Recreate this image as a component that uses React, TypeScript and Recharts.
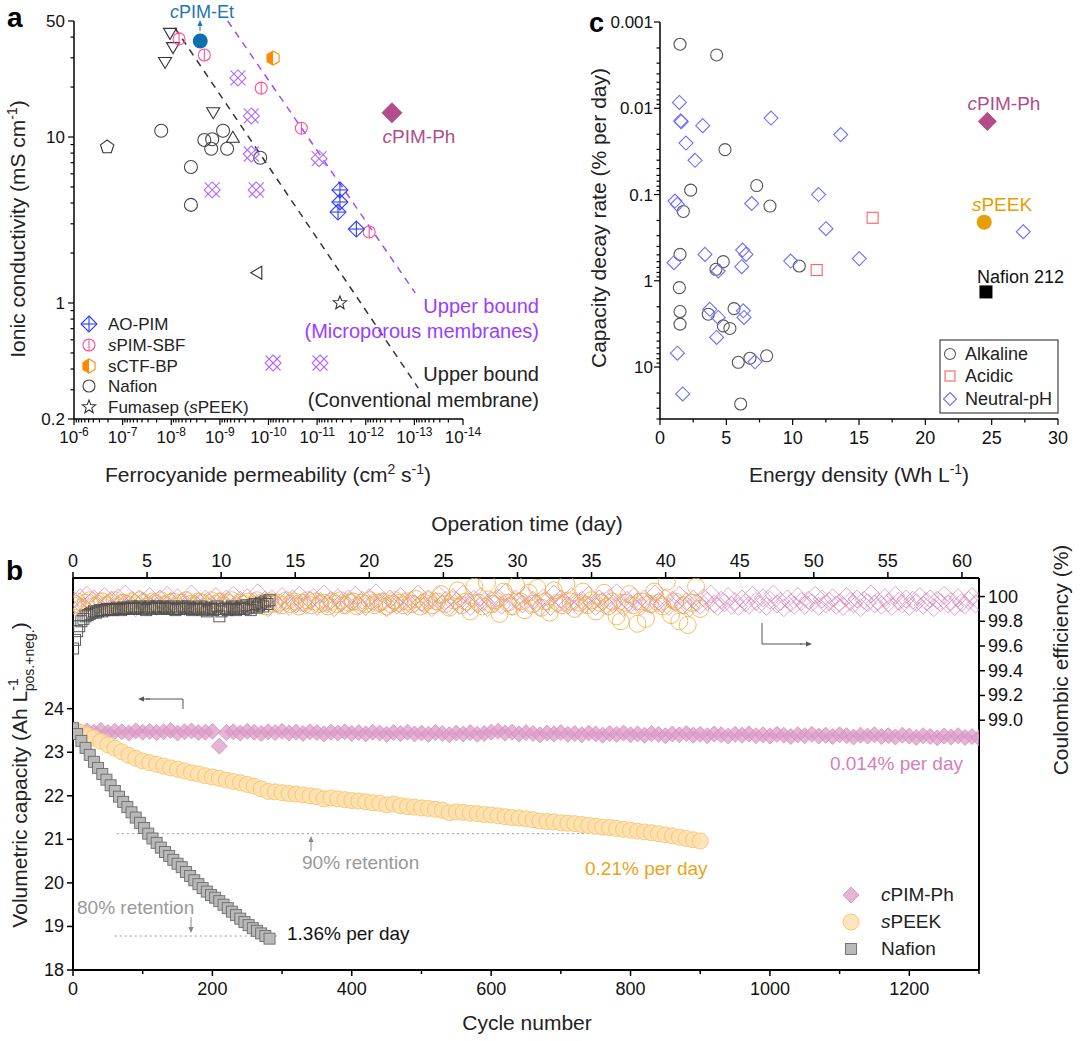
import React from 'react';
import { ScatterChart, Scatter, XAxis, YAxis, ReferenceLine } from 'recharts';

const FONT = 'Arial, "Liberation Sans", Helvetica, sans-serif';

// ---------------- Panel a data (permeability cm2/s, conductivity mS/cm) ----------------
const aoPimPerm = [3.4e-12, 3.4e-12, 3.72e-12, 1.56e-12];
const aoPimCond = [4.8, 4.06, 3.53, 2.79];
const sPimPerm = [6.9e-9, 2.09e-9, 1.41e-10, 2.11e-11, 8.5e-13];
const sPimCond = [39, 31.2, 19.7, 11.3, 2.68];
const sCtfPerm = [8.05e-11];
const sCtfCond = [29.9];
const nafionPerm = [1.61e-8, 2.09e-9, 1.44e-9, 8.6e-10, 1.51e-9, 7.1e-10, 1.48e-10, 3.94e-9, 3.94e-9];
const nafionCond = [10.9, 9.6, 9.7, 10.9, 8.5, 8.5, 7.5, 6.6, 3.9];
const fumaPerm = [3.4e-12];
const fumaCond = [1.0];
const triDownPerm = [1.06e-8, 9.2e-9, 1.34e-8, 1.37e-9];
const triDownCond = [42.4, 34.8, 28.3, 14.1];
const triUpPerm = [5.4e-10];
const triUpCond = [9.9];
const triLeftPerm = [1.7e-10];
const triLeftCond = [1.52];
const pentPerm = [2.08e-7];
const pentCond = [8.7];
const hatchPerm = [4.26e-10, 2.26e-10, 2.26e-10, 9.1e-12, 1.44e-9, 1.79e-10, 8.05e-11, 8.7e-12];
const hatchCond = [22.7, 13.4, 7.9, 7.4, 4.8, 4.8, 0.435, 0.435];
const cPimEtPerm = [2.53e-9];
const cPimEtCond = [37.9];
const cPimPhPermA = [2.89e-13];
const cPimPhCondA = [14.0];
const microBoundPerm = [6.9e-10, 9.6e-14];
const microBoundCond = [50, 1.15];
const convBoundPerm = [8.4e-9, 8.3e-14];
const convBoundCond = [45.4, 0.307];

// ---------------- Panel c data (energy density Wh/L, decay rate %/day) ----------------
const alkEnergy = [1.51, 4.27, 4.9, 2.31, 7.29, 8.29, 1.76, 1.51, 4.77, 4.22, 10.5, 1.46, 1.51, 1.51, 5.58, 3.64, 4.77, 5.27, 5.9, 6.78, 8.04, 6.08];
const alkDecay = [0.00181, 0.00241, 0.0302, 0.089, 0.0787, 0.136, 0.157, 0.494, 0.6, 0.736, 0.674, 1.2, 2.27, 3.18, 2.1, 2.44, 3.33, 3.57, 8.8, 7.9, 7.4, 26.8];
const acidEnergy = [16.03, 11.81];
const acidDecay = [0.186, 0.75];
const neutEnergy = [1.46, 1.56, 1.6, 3.22, 8.37, 13.62, 1.96, 2.64, 1.13, 1.31, 6.91, 11.95, 12.51, 27.38, 1.05, 3.39, 6.23, 6.48, 9.85, 15.02, 4.39, 6.16, 3.75, 4.39, 6.28, 6.33, 4.27, 1.31, 7.16, 1.71];
const neutDecay = [0.00857, 0.014, 0.0143, 0.0159, 0.013, 0.0202, 0.0253, 0.0401, 0.119, 0.13, 0.127, 0.1, 0.249, 0.27, 0.617, 0.494, 0.44, 0.494, 0.59, 0.553, 0.77, 0.686, 2.14, 2.66, 2.23, 2.66, 4.54, 6.9, 8.7, 20.5];
const cPimPhEnergy = [24.67];
const cPimPhDecay = [0.0142];
const sPeekEnergy = [24.44];
const sPeekDecay = [0.209];
const naf212Energy = [24.57];
const naf212Decay = [1.346];

// ---------------- Panel b data ----------------
const pimCapStep = 10; // cycles between listed points
const pimCapacity = [
  23.50, 23.47, 23.49, 23.46, 23.50, 23.45, 23.48, 23.47, 23.44, 23.49, 23.46,
  23.48, 23.45, 23.47, 23.50, 23.44, 23.47, 23.49, 23.45, 23.46, 23.48,
  23.14, 23.45, 23.47, 23.44, 23.48, 23.46, 23.43, 23.47, 23.45, 23.48,
  23.44, 23.46, 23.43, 23.47, 23.45, 23.42, 23.46, 23.44, 23.47, 23.43,
  23.45, 23.42, 23.46, 23.44, 23.41, 23.45, 23.43, 23.46, 23.42, 23.44,
  23.41, 23.45, 23.43, 23.40, 23.44, 23.42, 23.45, 23.41, 23.43, 23.46,
  23.48, 23.44, 23.46, 23.42, 23.45, 23.43, 23.40, 23.44, 23.42, 23.45,
  23.41, 23.43, 23.40, 23.44, 23.42, 23.39, 23.43, 23.41, 23.44, 23.40,
  23.42, 23.39, 23.43, 23.41, 23.38, 23.42, 23.40, 23.43, 23.39, 23.41,
  23.38, 23.42, 23.40, 23.37, 23.41, 23.39, 23.42, 23.38, 23.40, 23.37,
  23.41, 23.39, 23.36, 23.40, 23.38, 23.41, 23.37, 23.39, 23.36, 23.40,
  23.38, 23.35, 23.39, 23.37, 23.40, 23.36, 23.38, 23.35, 23.39, 23.37,
  23.34, 23.38, 23.36, 23.33, 23.37, 23.35, 23.38, 23.34, 23.36, 23.33,
];
const pimCEStep = 5;
const pimCE = [
  99.97, 99.94, 99.99, 99.92, 100.01, 99.95, 99.98, 99.93, 99.96, 100.0,
  99.94, 99.97, 99.92, 99.99, 99.95, 100.02, 99.93, 99.97, 99.91, 99.98,
  99.96, 99.93, 100.0, 99.95, 99.92, 99.98, 99.94, 100.01, 99.96, 99.93,
  99.99, 99.95, 99.92, 99.97, 100.02, 99.94, 99.96, 99.91, 99.98, 99.95,
  99.93, 100.0, 99.96, 99.92, 99.98, 99.95, 100.01, 99.93, 99.97, 99.94,
  99.99, 99.92, 99.96, 100.03, 99.94, 99.97, 99.91, 99.98, 99.95, 99.93,
  100.0, 99.96, 99.92, 99.98, 99.94, 100.01, 99.95, 99.93, 99.97, 99.99,
  99.92, 99.96, 100.02, 99.94, 99.97, 99.91, 99.99, 99.95, 99.93, 99.98,
  99.96, 100.01, 99.93, 99.97, 99.92, 99.99, 99.95, 100.03, 99.94, 99.96,
  99.91, 99.98, 99.95, 99.93, 100.0, 99.96, 99.92, 99.97, 99.94, 100.02,
  99.95, 99.93, 99.98, 99.91, 99.96, 100.01, 99.94, 99.97, 99.92, 99.99,
  99.96, 99.93, 100.02, 99.95, 99.92, 99.98, 99.94, 100.0, 99.96, 99.91,
  99.97, 99.94, 99.99, 99.93, 100.03, 99.95, 99.92, 99.98, 99.96, 99.94,
  100.01, 99.93, 99.97, 99.95, 99.91, 99.99, 99.96, 99.92, 100.02, 99.94,
  99.98, 99.95, 99.93, 100.0, 99.96, 99.92, 99.97, 99.94, 100.01, 99.95,
  99.92, 99.98, 99.96, 99.93, 99.99, 99.94, 100.03, 99.95, 99.91, 99.97,
  99.94, 100.0, 99.96, 99.92, 99.98, 99.95, 99.93, 100.02, 99.96, 99.94,
  99.99, 99.92, 99.97, 99.95, 100.01, 99.93, 99.96, 99.91, 99.98, 99.95,
  99.93, 99.99, 99.96, 100.02, 99.94, 99.92, 99.97, 99.95, 100.0, 99.93,
  99.96, 99.92, 99.98, 99.95, 99.93, 100.01, 99.96, 99.94, 99.99, 99.92,
  99.97, 100.02, 99.94, 99.96, 99.91, 99.98, 99.95, 99.93, 100.0, 99.96,
  99.93, 99.97, 99.95, 100.01, 99.92, 99.98, 99.94, 99.96, 99.99, 99.93,
  99.95, 99.92, 100.0, 99.96, 99.94, 99.98, 99.91, 99.97, 99.95, 100.02,
  99.94, 99.96, 99.93, 99.99, 99.95, 99.92, 100.01, 99.96, 99.94, 99.98,
  99.92, 99.97, 99.95, 100.0, 99.93, 99.96, 99.98, 99.91, 99.97, 99.95,
  100.01, 99.94, 99.96, 99.92, 99.99, 99.95, 99.93, 99.97, 100.0, 99.94,
  99.96,
];
const peekCapStep = 10;
const peekCapacity = [
  23.50, 23.46, 23.40, 23.33, 23.25, 23.17, 23.09, 23.01, 22.93, 22.86,
  22.80, 22.76, 22.72, 22.68, 22.64, 22.61, 22.57, 22.53, 22.50, 22.46,
  22.43, 22.40, 22.36, 22.33, 22.30, 22.26, 22.22, 22.16, 22.10, 22.09,
  22.07, 22.05, 22.04, 22.02, 22.00, 21.98, 21.93, 21.95, 21.93, 21.91,
  21.89, 21.88, 21.86, 21.84, 21.83, 21.79, 21.81, 21.77, 21.75, 21.74,
  21.72, 21.71, 21.69, 21.67, 21.61, 21.63, 21.62, 21.60, 21.59, 21.57,
  21.56, 21.54, 21.52, 21.50, 21.49, 21.47, 21.45, 21.42, 21.41, 21.40,
  21.38, 21.37, 21.36, 21.34, 21.32, 21.30, 21.28, 21.27, 21.25, 21.23,
  21.21, 21.19, 21.17, 21.15, 21.13, 21.10, 21.08, 21.05, 21.02, 20.99,
  20.96,
];
const peekCEStep = 6;
const peekCE = [
  99.93, 99.96, 99.91, 99.95, 99.97, 99.92, 99.94, 99.96, 99.93, 99.95,
  99.97, 99.92, 99.95, 99.94, 99.96, 99.93, 99.97, 99.95, 99.92, 99.96,
  99.94, 99.97, 99.93, 99.95, 99.96, 99.92, 99.95, 99.97, 99.94, 99.93,
  99.96, 99.95, 99.92, 99.97, 99.94, 99.96, 99.93, 99.95, 99.97, 99.92,
  99.95, 99.94, 99.96, 99.93, 99.97, 99.95, 99.92, 99.96, 99.94, 99.95,
  99.93, 99.97, 99.94, 99.96, 99.92, 99.95, 99.97, 99.93, 99.96, 99.94,
  99.95, 99.92, 99.96, 99.94, 99.97, 99.93, 99.95, 99.96, 99.92, 99.95,
  99.94, 99.97, 99.93, 99.95, 99.96, 99.92, 99.94, 99.97, 99.95, 99.93,
  99.96, 99.94, 99.98, 99.92, 99.95, 99.97, 99.93, 99.96, 100.02, 99.94,
  99.91, 99.97, 100.05, 99.93, 99.96, 99.88, 100.08, 99.95, 99.92, 100.11,
  99.94, 99.97, 99.86, 100.04, 99.95, 99.92, 100.09, 99.96, 99.89, 100.03,
  99.94, 100.07, 99.91, 99.96, 99.87, 100.05, 99.95, 99.93, 100.10, 99.96,
  99.90, 99.95, 100.04, 99.93, 99.97, 99.88, 99.95, 100.03, 99.92, 99.96,
  99.84, 99.80, 99.95, 100.02, 99.93, 99.78, 99.96, 99.82, 99.94, 100.04,
  99.95, 99.92, 100.12, 99.85, 99.96, 99.80, 99.93, 99.77, 99.95, 100.08,
  99.90,
];
const nafCapStep = 6;
const nafCapacity = [
  23.55, 23.42, 23.26, 23.10, 22.94, 22.78, 22.64, 22.50, 22.37, 22.24,
  22.11, 21.98, 21.86, 21.74, 21.62, 21.50, 21.38, 21.26, 21.13, 21.02,
  20.92, 20.81, 20.71, 20.62, 20.53, 20.44, 20.36, 20.25, 20.16, 20.06,
  19.97, 19.88, 19.80, 19.72, 19.66, 19.58, 19.50, 19.42, 19.34, 19.26,
  19.18, 19.10, 19.03, 18.96, 18.90, 18.84, 18.78, 18.72,
];
const nafCEStep = 3;
const nafCE = [
  99.58, 99.65, 99.72, 99.76, 99.80, 99.82, 99.84, 99.85, 99.86, 99.87,
  99.88, 99.87, 99.88, 99.89, 99.88, 99.89, 99.90, 99.89, 99.90, 99.89,
  99.90, 99.91, 99.90, 99.89, 99.91, 99.90, 99.91, 99.90, 99.92, 99.91,
  99.90, 99.91, 99.92, 99.90, 99.91, 99.89, 99.91, 99.92, 99.90, 99.91,
  99.92, 99.91, 99.90, 99.92, 99.91, 99.90, 99.91, 99.92, 99.90, 99.89,
  99.91, 99.90, 99.92, 99.91, 99.90, 99.92, 99.91, 99.89, 99.90, 99.91,
  99.90, 99.92, 99.89, 99.91, 99.88, 99.90, 99.91, 99.89, 99.90, 99.92,
  99.84, 99.88, 99.90, 99.91, 99.89, 99.90, 99.92, 99.91, 99.89, 99.90,
  99.91, 99.92, 99.90, 99.93, 99.91, 99.89, 99.92, 99.94, 99.91, 99.93,
  99.95, 99.92, 99.96, 99.94, 99.97,
];
const retention90 = 21.13;
const retention80 = 18.78;

// ---------------- helpers ----------------
const zip = (xs: number[], ys: number[]) => xs.map((x, i) => ({ x, y: ys[i] }));
const series = (step: number, ys: number[]) => ys.map((y, i) => ({ x: i * step, y }));
const logTicks = (lo: number, hi: number, maxV: number, minV: number) => {
  const out: number[] = [];
  for (let e = lo; e <= hi; e++) {
    for (let m = 1; m <= 9; m++) {
      const v = parseFloat((m * Math.pow(10, e)).toPrecision(6));
      if (v >= minV * 0.999 && v <= maxV * 1.001) out.push(v);
    }
  }
  return out;
};
const isDecade = (v: number) => {
  const l = Math.log10(v);
  return Math.abs(l - Math.round(l)) < 1e-6;
};

// ---------------- marker shapes ----------------
const shTriDown = (cx: number, cy: number) => (
  <path d={`M${cx - 6.5},${cy - 4.5} L${cx + 6.5},${cy - 4.5} L${cx},${cy + 6.5} Z`} fill="none" stroke="#333" strokeWidth={1.1} />
);
const shTriUp = (cx: number, cy: number) => (
  <path d={`M${cx - 6.5},${cy + 4.5} L${cx + 6.5},${cy + 4.5} L${cx},${cy - 6.5} Z`} fill="none" stroke="#333" strokeWidth={1.1} />
);
const shTriLeft = (cx: number, cy: number) => (
  <path d={`M${cx + 4.5},${cy - 6.5} L${cx + 4.5},${cy + 6.5} L${cx - 6.5},${cy} Z`} fill="none" stroke="#333" strokeWidth={1.1} />
);
const shPent = (cx: number, cy: number) => {
  const pts = [0, 1, 2, 3, 4].map((k) => {
    const a = -Math.PI / 2 + (k * 2 * Math.PI) / 5;
    return `${cx + 7 * Math.cos(a)},${cy + 7 * Math.sin(a)}`;
  });
  return <polygon points={pts.join(' ')} fill="none" stroke="#333" strokeWidth={1.1} />;
};
const shStar = (cx: number, cy: number) => {
  const pts: string[] = [];
  for (let k = 0; k < 10; k++) {
    const a = -Math.PI / 2 + (k * Math.PI) / 5;
    const r = k % 2 === 0 ? 7 : 3;
    pts.push(`${cx + r * Math.cos(a)},${cy + r * Math.sin(a)}`);
  }
  return <polygon points={pts.join(' ')} fill="none" stroke="#333" strokeWidth={1.1} />;
};
const shCircle = (cx: number, cy: number, r = 6, stroke = '#444') => (
  <circle cx={cx} cy={cy} r={r} fill="none" stroke={stroke} strokeWidth={1.1} />
);
const shSpim = (cx: number, cy: number) => (
  <g>
    <circle cx={cx} cy={cy} r={6} fill="none" stroke="#ff4f9b" strokeWidth={1.1} />
    <line x1={cx} y1={cy - 6} x2={cx} y2={cy + 6} stroke="#ff4f9b" strokeWidth={1.1} />
  </g>
);
const shAoPim = (cx: number, cy: number) => (
  <g stroke="#2e3dff" strokeWidth={1.1} fill="none">
    <path d={`M${cx},${cy - 8} L${cx + 8},${cy} L${cx},${cy + 8} L${cx - 8},${cy} Z`} />
    <line x1={cx - 8} y1={cy} x2={cx + 8} y2={cy} />
    <line x1={cx} y1={cy - 8} x2={cx} y2={cy + 8} />
  </g>
);
const shHex = (cx: number, cy: number) => {
  const r = 7;
  const h = r * Math.cos(Math.PI / 6);
  const full = `${cx},${cy - r} ${cx + h},${cy - r / 2} ${cx + h},${cy + r / 2} ${cx},${cy + r} ${cx - h},${cy + r / 2} ${cx - h},${cy - r / 2}`;
  const half = `${cx},${cy - r} ${cx},${cy + r} ${cx - h},${cy + r / 2} ${cx - h},${cy - r / 2}`;
  return (
    <g>
      <polygon points={full} fill="#fff" stroke="#ff8a00" strokeWidth={1.1} />
      <polygon points={half} fill="#ff8a00" stroke="none" />
    </g>
  );
};
const shHatch = (cx: number, cy: number) => (
  <g stroke="#b06bff" strokeWidth={1.1} fill="none">
    <path d={`M${cx},${cy - 8} L${cx + 8},${cy} L${cx},${cy + 8} L${cx - 8},${cy} Z`} />
    <line x1={cx - 7.5} y1={cy - 7.5} x2={cx + 7.5} y2={cy + 7.5} />
    <line x1={cx - 7.5} y1={cy + 7.5} x2={cx + 7.5} y2={cy - 7.5} />
  </g>
);
const shDiamondFill = (cx: number, cy: number, s: number, fill: string) => (
  <path d={`M${cx},${cy - s} L${cx + s},${cy} L${cx},${cy + s} L${cx - s},${cy} Z`} fill={fill} stroke={fill} strokeWidth={1} />
);
const shDiamondOpen = (cx: number, cy: number, s: number, stroke: string, sw = 1.1) => (
  <path d={`M${cx},${cy - s} L${cx + s},${cy} L${cx},${cy + s} L${cx - s},${cy} Z`} fill="none" stroke={stroke} strokeWidth={sw} />
);
const shSquareOpen = (cx: number, cy: number, s: number, stroke: string, sw = 1.1) => (
  <rect x={cx - s} y={cy - s} width={2 * s} height={2 * s} fill="none" stroke={stroke} strokeWidth={sw} />
);

// panel b markers
const shPimCap = (cx: number, cy: number) => (
  <path d={`M${cx},${cy - 8} L${cx + 8},${cy} L${cx},${cy + 8} L${cx - 8},${cy} Z`} fill="#dc9cc8" fillOpacity={0.75} stroke="#d58abd" strokeWidth={0.8} />
);
const shPeekCap = (cx: number, cy: number) => (
  <circle cx={cx} cy={cy} r={8} fill="#fde0ae" fillOpacity={0.8} stroke="#f5c56a" strokeWidth={0.9} />
);
const shNafCap = (cx: number, cy: number) => (
  <rect x={cx - 5.5} y={cy - 5.5} width={11} height={11} fill="#b9b9b9" stroke="#6b6b6b" strokeWidth={0.9} />
);
const shPimCE = (cx: number, cy: number) => (
  <path d={`M${cx},${cy - 9} L${cx + 9},${cy} L${cx},${cy + 9} L${cx - 9},${cy} Z`} fill="none" stroke="#d47cb6" strokeWidth={0.7} />
);
const shPeekCE = (cx: number, cy: number) => (
  <circle cx={cx} cy={cy} r={8.5} fill="none" stroke="#f3ad35" strokeWidth={0.8} />
);
const shNafCE = (cx: number, cy: number) => (
  <rect x={cx - 5.5} y={cy - 5.5} width={11} height={11} fill="none" stroke="#4d4d4d" strokeWidth={0.9} />
);

// ---------------- ticks ----------------
const TickAX = (p: any) => {
  const { x, y, payload } = p;
  const v = payload.value;
  const major = isDecade(v);
  return (
    <g>
      <line x1={x} y1={y} x2={x} y2={y + (major ? 6 : 3.5)} stroke="#000" strokeWidth={1.2} />
      {major && (
        <text x={x} y={y + 24} textAnchor="middle" fontSize={17} fontFamily={FONT} fill="#111">
          10<tspan fontSize={12} dy={-7}>{String(Math.round(Math.log10(v)))}</tspan>
        </text>
      )}
    </g>
  );
};
const aYLabels: Record<string, string> = { '0.2': '0.2', '1': '1', '10': '10', '50': '50' };
const TickAY = (p: any) => {
  const { x, y, payload } = p;
  const v = payload.value;
  const major = isDecade(v);
  const lab = aYLabels[String(v)];
  return (
    <g>
      <line x1={x} y1={y} x2={x - (major || lab ? 6 : 3.5)} y2={y} stroke="#000" strokeWidth={1.2} />
      {lab && (
        <text x={x - 9} y={y + 6} textAnchor="end" fontSize={17} fontFamily={FONT} fill="#111">{lab}</text>
      )}
    </g>
  );
};
const TickCX = (p: any) => {
  const { x, y, payload } = p;
  const v = payload.value;
  const major = v % 5 === 0;
  return (
    <g>
      <line x1={x} y1={y} x2={x} y2={y + (major ? 6 : 3.5)} stroke="#000" strokeWidth={1.2} />
      {major && (
        <text x={x} y={y + 25} textAnchor="middle" fontSize={18} fontFamily={FONT} fill="#111">{v}</text>
      )}
    </g>
  );
};
const TickCY = (p: any) => {
  const { x, y, payload } = p;
  const v = payload.value;
  const major = isDecade(v);
  return (
    <g>
      <line x1={x} y1={y} x2={x - (major ? 6 : 3.5)} y2={y} stroke="#000" strokeWidth={1.2} />
      {major && (
        <text x={x - 7} y={y + 6} textAnchor="end" fontSize={17} fontFamily={FONT} fill="#111">{String(v)}</text>
      )}
    </g>
  );
};
const TickBBottom = (p: any) => {
  const { x, y, payload } = p;
  const v = payload.value;
  const major = v % 200 === 0;
  return (
    <g>
      <line x1={x} y1={y} x2={x} y2={y + (major ? 6 : 4)} stroke="#000" strokeWidth={1.5} />
      {major && (
        <text x={x} y={y + 25} textAnchor="middle" fontSize={18} fontFamily={FONT} fill="#111">{v}</text>
      )}
    </g>
  );
};
const TickBTop = (p: any) => {
  const { x, y, payload } = p;
  const v = payload.value;
  return (
    <g>
      <line x1={x} y1={y} x2={x} y2={y - 6} stroke="#000" strokeWidth={1.5} />
      <text x={x} y={y - 11} textAnchor="middle" fontSize={18} fontFamily={FONT} fill="#111">{v}</text>
    </g>
  );
};
const TickBLeft = (p: any) => {
  const { x, y, payload } = p;
  return (
    <g>
      <line x1={x} y1={y} x2={x - 6} y2={y} stroke="#000" strokeWidth={1.5} />
      <text x={x - 9} y={y + 6} textAnchor="end" fontSize={18} fontFamily={FONT} fill="#111">{payload.value}</text>
    </g>
  );
};
const TickBRight = (p: any) => {
  const { x, y, payload } = p;
  const v = payload.value;
  const lab = v >= 99.999 ? '100' : v.toFixed(1);
  return (
    <g>
      <line x1={x} y1={y} x2={x + 6} y2={y} stroke="#000" strokeWidth={1.5} />
      <text x={x + 9} y={y + 6} textAnchor="start" fontSize={18} fontFamily={FONT} fill="#111">{lab}</text>
    </g>
  );
};

const aXTicks = logTicks(-14, -6, 1e-6, 1e-14);
const aYTicks = logTicks(-1, 1, 50, 0.2);
const cYTicks = logTicks(-3, 1, 40, 0.001);
const cXTicks = [0, 2.5, 5, 7.5, 10, 12.5, 15, 17.5, 20, 22.5, 25, 27.5, 30];
const bXTicks = [0, 100, 200, 300, 400, 500, 600, 700, 800, 900, 1000, 1100, 1200, 1300];
const bTopTicks = [0, 5, 10, 15, 20, 25, 30, 35, 40, 45, 50, 55, 60];
const bLeftTicks = [18, 19, 20, 21, 22, 23, 24];
const bRightTicks = [99.0, 99.2, 99.4, 99.6, 99.8, 100.0];

const axisCommon = { tickLine: false, tickSize: 0, tickMargin: 0, interval: 0 as const, allowDataOverflow: true };

const PanelA = () => (
  <ScatterChart width={1080} height={1041} margin={{ top: 21, right: 617, bottom: 592, left: 34 }}>
    <XAxis
      {...axisCommon}
      dataKey="x"
      type="number"
      scale="log"
      domain={[1e-14, 1e-6]}
      reversed
      ticks={aXTicks}
      tick={TickAX}
      height={30}
      axisLine={{ stroke: '#000', strokeWidth: 1.5 }}
    />
    <YAxis
      {...axisCommon}
      dataKey="y"
      type="number"
      scale="log"
      domain={[0.2, 50]}
      ticks={aYTicks}
      tick={TickAY}
      width={40}
      axisLine={{ stroke: '#000', strokeWidth: 1.5 }}
    />
    <ReferenceLine
      segment={[{ x: convBoundPerm[0], y: convBoundCond[0] }, { x: convBoundPerm[1], y: convBoundCond[1] }]}
      stroke="#333"
      strokeWidth={1.5}
      strokeDasharray="7 6"
      ifOverflow="visible"
    />
    <ReferenceLine
      segment={[{ x: microBoundPerm[0], y: microBoundCond[0] }, { x: microBoundPerm[1], y: microBoundCond[1] }]}
      stroke="#9b4dff"
      strokeWidth={1.5}
      strokeDasharray="7 6"
      ifOverflow="visible"
    />
    <Scatter data={zip(pentPerm, pentCond)} isAnimationActive={false} shape={(p: any) => shPent(p.cx, p.cy)} />
    <Scatter data={zip(triDownPerm, triDownCond)} isAnimationActive={false} shape={(p: any) => shTriDown(p.cx, p.cy)} />
    <Scatter data={zip(triUpPerm, triUpCond)} isAnimationActive={false} shape={(p: any) => shTriUp(p.cx, p.cy)} />
    <Scatter data={zip(triLeftPerm, triLeftCond)} isAnimationActive={false} shape={(p: any) => shTriLeft(p.cx, p.cy)} />
    <Scatter data={zip(nafionPerm, nafionCond)} isAnimationActive={false} shape={(p: any) => shCircle(p.cx, p.cy, 6.5, '#444')} />
    <Scatter data={zip(fumaPerm, fumaCond)} isAnimationActive={false} shape={(p: any) => shStar(p.cx, p.cy)} />
    <Scatter data={zip(hatchPerm, hatchCond)} isAnimationActive={false} shape={(p: any) => shHatch(p.cx, p.cy)} />
    <Scatter data={zip(sPimPerm, sPimCond)} isAnimationActive={false} shape={(p: any) => shSpim(p.cx, p.cy)} />
    <Scatter data={zip(aoPimPerm, aoPimCond)} isAnimationActive={false} shape={(p: any) => shAoPim(p.cx, p.cy)} />
    <Scatter data={zip(sCtfPerm, sCtfCond)} isAnimationActive={false} shape={(p: any) => shHex(p.cx, p.cy)} />
    <Scatter data={zip(cPimEtPerm, cPimEtCond)} isAnimationActive={false} shape={(p: any) => <circle cx={p.cx} cy={p.cy} r={7.5} fill="#0f6fae" />} />
    <Scatter data={zip(cPimPhPermA, cPimPhCondA)} isAnimationActive={false} shape={(p: any) => shDiamondFill(p.cx, p.cy, 10, '#b24c8b')} />
  </ScatterChart>
);

const PanelC = () => (
  <ScatterChart width={1080} height={1041} margin={{ top: 22, right: 22, bottom: 592, left: 610 }}>
    <XAxis
      {...axisCommon}
      dataKey="x"
      type="number"
      domain={[0, 30]}
      ticks={cXTicks}
      tick={TickCX}
      height={30}
      axisLine={{ stroke: '#000', strokeWidth: 1.5 }}
    />
    <YAxis
      {...axisCommon}
      dataKey="y"
      type="number"
      scale="log"
      domain={[0.001, 40]}
      reversed
      ticks={cYTicks}
      tick={TickCY}
      width={50}
      axisLine={{ stroke: '#000', strokeWidth: 1.5 }}
    />
    <Scatter data={zip(alkEnergy, alkDecay)} isAnimationActive={false} shape={(p: any) => shCircle(p.cx, p.cy, 6, '#555')} />
    <Scatter data={zip(acidEnergy, acidDecay)} isAnimationActive={false} shape={(p: any) => shSquareOpen(p.cx, p.cy, 5.5, '#ff6262')} />
    <Scatter data={zip(neutEnergy, neutDecay)} isAnimationActive={false} shape={(p: any) => shDiamondOpen(p.cx, p.cy, 7, '#6f6fff')} />
    <Scatter data={zip(cPimPhEnergy, cPimPhDecay)} isAnimationActive={false} shape={(p: any) => shDiamondFill(p.cx, p.cy, 9, '#b24c8b')} />
    <Scatter data={zip(sPeekEnergy, sPeekDecay)} isAnimationActive={false} shape={(p: any) => <circle cx={p.cx} cy={p.cy} r={7.5} fill="#e89d00" />} />
    <Scatter data={zip(naf212Energy, naf212Decay)} isAnimationActive={false} shape={(p: any) => <rect x={p.cx - 6.5} y={p.cy - 6.5} width={13} height={13} fill="#000" />} />
  </ScatterChart>
);

const PanelB = () => (
  <ScatterChart width={1080} height={1041} margin={{ top: 548, right: 41, bottom: 41, left: 33 }}>
    <XAxis
      {...axisCommon}
      xAxisId="bottom"
      dataKey="x"
      type="number"
      domain={[0, 1300]}
      ticks={bXTicks}
      tick={TickBBottom}
      height={30}
      axisLine={{ stroke: '#000', strokeWidth: 2 }}
    />
    <XAxis
      {...axisCommon}
      xAxisId="top"
      orientation="top"
      dataKey="x"
      type="number"
      domain={[0, 61.15]}
      ticks={bTopTicks}
      tick={TickBTop}
      height={30}
      axisLine={{ stroke: '#000', strokeWidth: 2 }}
    />
    <YAxis
      {...axisCommon}
      yAxisId="left"
      dataKey="y"
      type="number"
      domain={[18, 27]}
      ticks={bLeftTicks}
      tick={TickBLeft}
      width={40}
      axisLine={{ stroke: '#000', strokeWidth: 2 }}
    />
    <YAxis
      {...axisCommon}
      yAxisId="right"
      orientation="right"
      dataKey="y"
      type="number"
      domain={[96.98, 100.15]}
      ticks={bRightTicks}
      tick={TickBRight}
      width={60}
      axisLine={{ stroke: '#000', strokeWidth: 2 }}
    />
    <ReferenceLine xAxisId="bottom" yAxisId="left" segment={[{ x: 63, y: retention90 }, { x: 770, y: retention90 }]} stroke="#9a9a9a" strokeWidth={1} strokeDasharray="2 3" />
    <ReferenceLine xAxisId="bottom" yAxisId="left" segment={[{ x: 60, y: retention80 }, { x: 295, y: retention80 }]} stroke="#9a9a9a" strokeWidth={1} strokeDasharray="2 3" />
    <Scatter xAxisId="bottom" yAxisId="right" data={series(pimCEStep, pimCE)} isAnimationActive={false} shape={(p: any) => shPimCE(p.cx, p.cy)} />
    <Scatter xAxisId="bottom" yAxisId="right" data={series(peekCEStep, peekCE)} isAnimationActive={false} shape={(p: any) => shPeekCE(p.cx, p.cy)} />
    <Scatter xAxisId="bottom" yAxisId="right" data={series(nafCEStep, nafCE)} isAnimationActive={false} shape={(p: any) => shNafCE(p.cx, p.cy)} />
    <Scatter xAxisId="bottom" yAxisId="left" data={series(pimCapStep, pimCapacity)} isAnimationActive={false} shape={(p: any) => shPimCap(p.cx, p.cy)} />
    <Scatter xAxisId="bottom" yAxisId="left" data={series(peekCapStep, peekCapacity)} isAnimationActive={false} shape={(p: any) => shPeekCap(p.cx, p.cy)} />
    <Scatter xAxisId="bottom" yAxisId="left" data={series(nafCapStep, nafCapacity)} isAnimationActive={false} shape={(p: any) => shNafCap(p.cx, p.cy)} />
  </ScatterChart>
);

const Arrow = ({ x1, y1, x2, y2, color }: any) => {
  const a = Math.atan2(y2 - y1, x2 - x1);
  const L = 6;
  const W = 2.6;
  const bx = x2 - L * Math.cos(a);
  const by = y2 - L * Math.sin(a);
  const px = -Math.sin(a) * W;
  const py = Math.cos(a) * W;
  return (
    <g>
      <line x1={x1} y1={y1} x2={bx} y2={by} stroke={color} strokeWidth={1} />
      <polygon points={`${x2},${y2} ${bx + px},${by + py} ${bx - px},${by - py}`} fill={color} />
    </g>
  );
};

const Overlay = () => (
  <svg width={1080} height={1041} style={{ position: 'absolute', left: 0, top: 0, pointerEvents: 'none' }} fontFamily={FONT}>
    {/* panel letters */}
    <text x={7} y={27} fontSize={28} fontWeight="bold" fill="#000">a</text>
    <text x={589} y={32} fontSize={27} fontWeight="bold" fill="#000">c</text>
    <text x={6} y={580} fontSize={28} fontWeight="bold" fill="#000">b</text>

    {/* panel a titles */}
    <text x={268} y={482} textAnchor="middle" fontSize={21} fill="#222">
      Ferrocyanide permeability (cm<tspan fontSize={14} dy={-8}>2</tspan><tspan dy={8}> s</tspan><tspan fontSize={14} dy={-8}>-1</tspan><tspan dy={8}>)</tspan>
    </text>
    <text x={25} y={229} textAnchor="middle" fontSize={21} fill="#222" transform="rotate(-90 25 229)">
      Ionic conductivity (mS cm<tspan fontSize={14} dy={-8}>-1</tspan><tspan dy={8}>)</tspan>
    </text>
    {/* panel a annotations */}
    <text x={202} y={18} textAnchor="middle" fontSize={18} fill="#1a78b4">
      <tspan fontStyle="italic">c</tspan>PIM-Et
    </text>
    <Arrow x1={200} y1={31} x2={200} y2={20} color="#1a78b4" />
    <text x={419} y={143} textAnchor="middle" fontSize={19} fill="#b24c8b">
      <tspan fontStyle="italic">c</tspan>PIM-Ph
    </text>
    <text x={539} y={313} textAnchor="end" fontSize={20} fill="#9b3dff">Upper bound</text>
    <text x={539} y={338} textAnchor="end" fontSize={20} fill="#9b3dff">(Microporous membranes)</text>
    <text x={539} y={381} textAnchor="end" fontSize={20} fill="#222">Upper bound</text>
    <text x={539} y={407} textAnchor="end" fontSize={20} fill="#222">(Conventional membrane)</text>
    {/* panel a legend */}
    {shAoPim(89, 324)}
    <text x={108} y={330} fontSize={17} fill="#222">AO-PIM</text>
    {shSpim(89, 345)}
    <text x={108} y={351} fontSize={17} fill="#222"><tspan fontStyle="italic">s</tspan>PIM-SBF</text>
    {shHex(89, 366)}
    <text x={108} y={372} fontSize={17} fill="#222">sCTF-BP</text>
    {shCircle(89, 386, 6, '#444')}
    <text x={108} y={392} fontSize={17} fill="#222">Nafion</text>
    {shStar(89, 407)}
    <text x={108} y={413} fontSize={17} fill="#222">Fumasep (<tspan fontStyle="italic">s</tspan>PEEK)</text>

    {/* panel c titles */}
    <text x={859} y={482} textAnchor="middle" fontSize={21} fill="#222">
      Energy density (Wh L<tspan fontSize={14} dy={-8}>-1</tspan><tspan dy={8}>)</tspan>
    </text>
    <text x={606} y={218} textAnchor="middle" fontSize={21} fill="#222" transform="rotate(-90 606 218)">
      Capacity decay rate (% per day)
    </text>
    <text x={1004} y={110} textAnchor="middle" fontSize={19} fill="#b24c8b"><tspan fontStyle="italic">c</tspan>PIM-Ph</text>
    <text x={1002} y={211} textAnchor="middle" fontSize={19} fill="#e89d00"><tspan fontStyle="italic">s</tspan>PEEK</text>
    <text x={977} y={283} fontSize={18} fill="#111">Nafion 212</text>
    {/* panel c legend */}
    <rect x={940} y={340} width={118} height={73} fill="#fff" stroke="#444" strokeWidth={1.2} />
    {shCircle(950, 354, 5.5, '#555')}
    <text x={965} y={360} fontSize={18} fill="#222">Alkaline</text>
    {shSquareOpen(950, 376, 5, '#ff6262')}
    <text x={965} y={382} fontSize={18} fill="#222">Acidic</text>
    {shDiamondOpen(950, 399, 6.5, '#6f6fff')}
    <text x={965} y={405} fontSize={18} fill="#222">Neutral-pH</text>

    {/* panel b titles */}
    <text x={527} y={531} textAnchor="middle" fontSize={21} fill="#222">Operation time (day)</text>
    <text x={527} y={1030} textAnchor="middle" fontSize={21} fill="#222">Cycle number</text>
    <text x={27} y={775} textAnchor="middle" fontSize={21} fill="#222" transform="rotate(-90 27 775)">
      Volumetric capacity (Ah L<tspan fontSize={14} dy={-9}>-1</tspan><tspan fontSize={14} dx={-13} dy={16}>pos.+neg.</tspan><tspan dy={-7}>)</tspan>
    </text>
    <text x={1068} y={660} textAnchor="middle" fontSize={21} fill="#222" transform="rotate(-90 1068 660)">Coulombic efficiency (%)</text>

    {/* panel b annotations */}
    <text x={963} y={770} textAnchor="end" fontSize={19} fill="#d57fb8">0.014% per day</text>
    <text x={585} y={875} fontSize={19} fill="#eda21c">0.21% per day</text>
    <text x={287} y={940} fontSize={19} fill="#111">1.36% per day</text>
    <text x={302} y={869} fontSize={19} fill="#999">90% retention</text>
    <text x={77} y={914} fontSize={19} fill="#999">80% retention</text>
    <Arrow x1={311} y1={851} x2={311} y2={836} color="#888" />
    <Arrow x1={191} y1={917} x2={191} y2={933} color="#888" />
    <polyline points="183,709 183,699 146,699" fill="none" stroke="#555" strokeWidth={1} />
    <Arrow x1={150} y1={699} x2={138} y2={699} color="#555" />
    <polyline points="762,623 762,644 802,644" fill="none" stroke="#555" strokeWidth={1} />
    <Arrow x1={800} y1={644} x2={812} y2={644} color="#555" />

    {/* panel b legend */}
    {shPimCap(851, 895)}
    <text x={881} y={901} fontSize={19} fill="#222"><tspan fontStyle="italic">c</tspan>PIM-Ph</text>
    {shPeekCap(851, 922)}
    <text x={881} y={928} fontSize={19} fill="#222"><tspan fontStyle="italic">s</tspan>PEEK</text>
    {shNafCap(851, 949)}
    <text x={881} y={955} fontSize={19} fill="#222">Nafion</text>
  </svg>
);

export default function App() {
  return (
    <div style={{ position: 'absolute', left: 0, top: 0, width: 1080, height: 1041, background: '#fff', fontFamily: FONT, overflow: 'hidden' }}>
      <div style={{ position: 'absolute', left: 0, top: 0 }}><PanelA /></div>
      <div style={{ position: 'absolute', left: 0, top: 0 }}><PanelC /></div>
      <div style={{ position: 'absolute', left: 0, top: 0 }}><PanelB /></div>
      <Overlay />
    </div>
  );
}
